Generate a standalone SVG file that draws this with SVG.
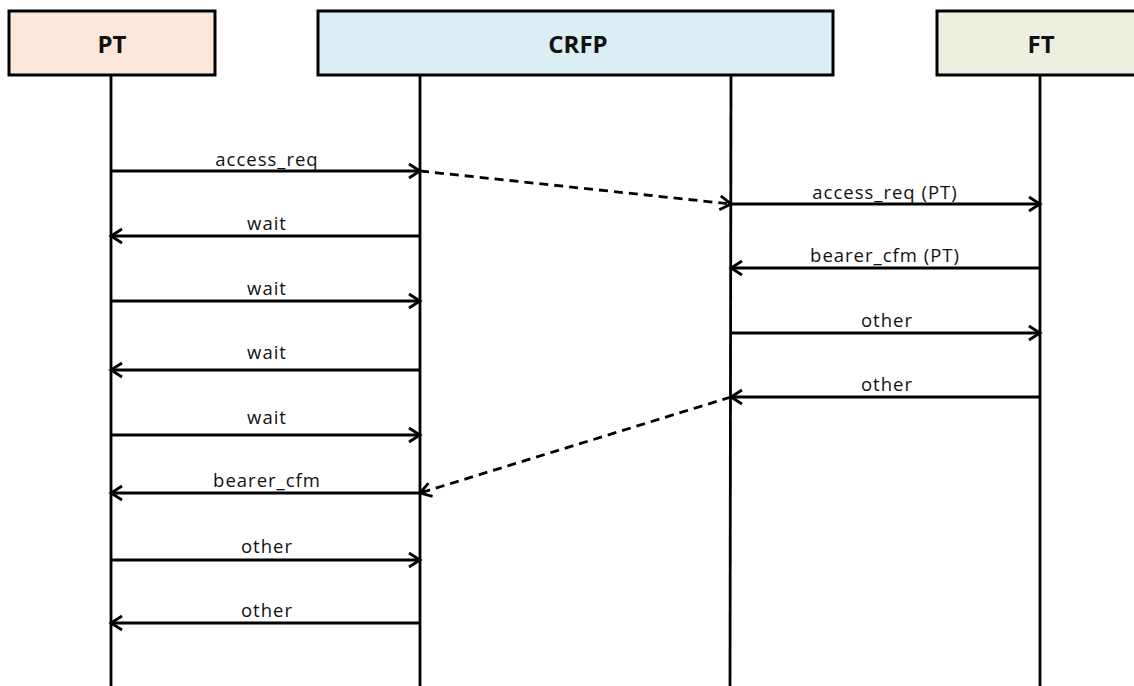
<svg xmlns="http://www.w3.org/2000/svg" width="1134" height="686" viewBox="0 0 1134 686">
<style>
.box{stroke:#000;stroke-width:3}
.title{font-family:"Open Sans","Liberation Sans",sans-serif;font-weight:bold;font-size:24px;text-anchor:middle;fill:#111}
.life{stroke:#000;stroke-width:2.8;fill:none}
.msg{stroke:#000;stroke-width:2.8;fill:none;marker-end:url(#arr)}
.dash{stroke-dasharray:9,6}
.lbl{font-family:"Open Sans","Liberation Sans",sans-serif;font-size:18.5px;text-anchor:middle;fill:#111;letter-spacing:1px}
</style>
<defs>
<marker id="arr" markerUnits="userSpaceOnUse" markerWidth="18" markerHeight="18" viewBox="0 0 18 18" refX="15" refY="9" orient="auto">
<path d="M4,2 L15,9 L4,16" fill="none" stroke="#000" stroke-width="2.8"/>
</marker>
</defs>
<rect width="1134" height="686" fill="#fff"/>
<g id="PT">
<rect class="box" x="9" y="11" width="206" height="64" fill="#fce8da"/>
<text class="title" x="112" y="53">PT</text>
<line class="life" x1="111" y1="75" x2="111" y2="686"/>
</g>
<g id="CRFP">
<rect class="box" x="318" y="11" width="515" height="64" fill="#dbeef3"/>
<text class="title" x="578" y="53">CRFP</text>
<line class="life" x1="420" y1="75" x2="420" y2="686"/>
<line class="life" x1="731" y1="75" x2="730" y2="686"/>
</g>
<g id="FT">
<rect class="box" x="937" y="11" width="210" height="64" fill="#ebf1de"/>
<text class="title" x="1041" y="53">FT</text>
<line class="life" x1="1040" y1="75" x2="1040" y2="686"/>
</g>
<g id="connectors">
<line class="msg" x1="111" y1="171" x2="420" y2="171"/>
<line class="msg dash" x1="420" y1="171" x2="731" y2="204"/>
<line class="msg" x1="731" y1="204" x2="1040" y2="204"/>
<line class="msg" x1="420" y1="236" x2="111" y2="236"/>
<line class="msg" x1="1040" y1="268" x2="731" y2="268"/>
<line class="msg" x1="111" y1="301" x2="420" y2="301"/>
<line class="msg" x1="731" y1="333" x2="1040" y2="333"/>
<line class="msg" x1="420" y1="370" x2="111" y2="370"/>
<line class="msg" x1="1040" y1="397" x2="731" y2="397"/>
<line class="msg dash" x1="731" y1="397" x2="420" y2="493"/>
<line class="msg" x1="111" y1="435" x2="420" y2="435"/>
<line class="msg" x1="420" y1="493" x2="111" y2="493"/>
<line class="msg" x1="111" y1="560" x2="420" y2="560"/>
<line class="msg" x1="420" y1="623" x2="111" y2="623"/>
</g>
<g id="labels">
<text class="lbl" x="267" y="166">access_req</text>
<text class="lbl" x="885" y="199">access_req (PT)</text>
<text class="lbl" x="267" y="230">wait</text>
<text class="lbl" x="885" y="262">bearer_cfm (PT)</text>
<text class="lbl" x="267" y="295">wait</text>
<text class="lbl" x="887" y="327">other</text>
<text class="lbl" x="267" y="359">wait</text>
<text class="lbl" x="887" y="391">other</text>
<text class="lbl" x="267" y="424">wait</text>
<text class="lbl" x="267" y="487">bearer_cfm</text>
<text class="lbl" x="267" y="553">other</text>
<text class="lbl" x="267" y="617">other</text>
</g>
</svg>
